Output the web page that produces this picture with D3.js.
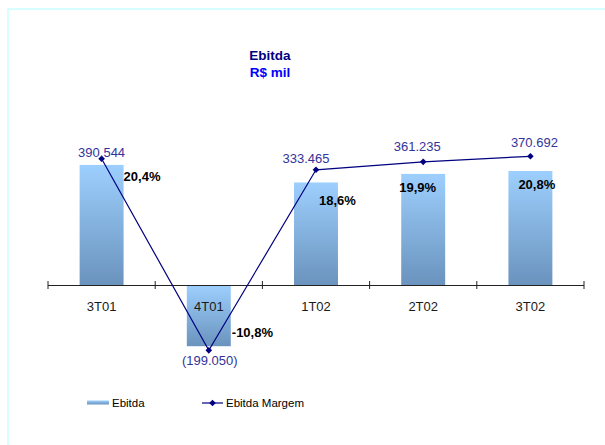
<!DOCTYPE html>
<html>
<head>
<meta charset="utf-8">
<script src="https://cdn.jsdelivr.net/npm/d3@7"></script>
<style>
  html, body { margin: 0; padding: 0; background: #ffffff; }
  svg { display: block; font-family: "Liberation Sans", Arial, sans-serif; }
</style>
</head>
<body>
<svg id="chart" width="605" height="445"></svg>
<script>
// ---- data ----
const categories = ["3T01", "4T01", "1T02", "2T02", "3T02"];
const ebitdaValues = [390544, -199050, 333465, 361235, 370692];   // R$ mil
const ebitdaMargin = [20.4, -10.8, 18.6, 19.9, 20.8];              // %
const titleLines = ["Ebitda", "R$ mil"];
const seriesNames = ["Ebitda", "Ebitda Margem"];

// ---- layout (label nudges, as placed in the original) ----
const valueLabelOffset = [[0, -2], [1, 15], [-10, -7], [-6, -11], [4, -9]];
const pctLabelOffset = [[22, 22], [23, -13], [3, 35], [-24, 30], [-12, 33]];

const svg = d3.select("#chart");
const loc = d3.formatLocale({ decimal: ",", thousands: ".", grouping: [3], currency: ["R$", ""], minus: "-" });
const fmtVal = v => v < 0 ? "(" + loc.format(",d")(-v) + ")" : loc.format(",d")(v);
const fmtPct = v => loc.format(".1f")(v) + "%";

// frame
svg.append("rect").attr("x", 8).attr("y", 9).attr("width", 640).attr("height", 480)
  .attr("fill", "#ffffff").attr("stroke", "#ccffff").attr("stroke-width", 1.5);

// gradient
const defs = svg.append("defs");
const grad = defs.append("linearGradient").attr("id", "barGrad")
  .attr("x1", 0).attr("y1", 0).attr("x2", 0).attr("y2", 1);
grad.append("stop").attr("offset", "0%").attr("stop-color", "#9dcffe");
grad.append("stop").attr("offset", "100%").attr("stop-color", "#6a93bd");

// scales
const x = d3.scaleBand().domain(categories).range([48, 584]).padding(0);
const yBar = d3.scaleLinear().domain([-300000, 500000]).range([377.25, 131.25]);
const yPct = d3.scaleLinear().domain([-15, 25]).range([376.1, 130.5]);
const barW = x.bandwidth() * 0.41;
const cx = c => x(c) + x.bandwidth() / 2;
const marker = d3.symbol(d3.symbolSquare, 22);

// title
svg.append("text").attr("x", 270).attr("y", 60).attr("text-anchor", "middle")
  .attr("font-size", 13.5).attr("font-weight", "bold").attr("fill", "#000080").text(titleLines[0]);
svg.append("text").attr("x", 270).attr("y", 77).attr("text-anchor", "middle")
  .attr("font-size", 13.5).attr("font-weight", "bold").attr("fill", "#0000ff").text(titleLines[1]);

// bars
svg.append("g").selectAll("rect").data(categories).join("rect")
  .attr("x", c => cx(c) - barW / 2)
  .attr("y", (c, i) => Math.min(yBar(ebitdaValues[i]), yBar(0)))
  .attr("width", barW)
  .attr("height", (c, i) => Math.abs(yBar(ebitdaValues[i]) - yBar(0)))
  .attr("fill", "url(#barGrad)");

// axis
const y0 = yBar(0);
const axis = svg.append("g").attr("transform", `translate(0,${y0})`)
  .call(d3.axisBottom(x).tickSize(0).tickPadding(17));
axis.select(".domain").attr("stroke", "#222").attr("stroke-width", 1).attr("d", `M48,0.5H584`);
axis.selectAll("text").attr("font-size", 13).attr("fill", "#1a1a1a")
  .attr("font-family", "'Liberation Sans', Arial, sans-serif");
const tickPos = categories.map(c => x(c)).concat([x.range()[1]]);
axis.selectAll("line.sep").data(tickPos).join("line").attr("class", "sep")
  .attr("x1", d => d).attr("x2", d => d).attr("y1", -4).attr("y2", 4)
  .attr("stroke", "#222").attr("stroke-width", 1);

// margin line
const line = d3.line().x((d, i) => cx(categories[i])).y(d => yPct(d));
svg.append("path").datum(ebitdaMargin).attr("d", line)
  .attr("fill", "none").attr("stroke", "#000080").attr("stroke-width", 1.2);
svg.append("g").selectAll("path").data(ebitdaMargin).join("path")
  .attr("transform", (d, i) => `translate(${cx(categories[i])},${yPct(d)}) rotate(45)`)
  .attr("d", marker)
  .attr("fill", "#000080");

// value labels
svg.append("g").selectAll("text").data(ebitdaValues).join("text")
  .attr("x", (d, i) => cx(categories[i]) + valueLabelOffset[i][0])
  .attr("y", (d, i) => yPct(ebitdaMargin[i]) + valueLabelOffset[i][1])
  .attr("text-anchor", "middle").attr("font-size", 13).attr("fill", "#333399")
  .text(d => fmtVal(d));

// percentage labels
svg.append("g").selectAll("text").data(ebitdaMargin).join("text")
  .attr("x", (d, i) => cx(categories[i]) + pctLabelOffset[i][0])
  .attr("y", (d, i) => yPct(d) + pctLabelOffset[i][1])
  .attr("font-size", 13).attr("font-weight", "bold").attr("fill", "#000000")
  .text(d => fmtPct(d));

// legend
const lg = svg.append("g");
lg.append("rect").attr("x", 87).attr("y", 400.5).attr("width", 22).attr("height", 4)
  .attr("fill", "url(#barGrad)");
lg.append("text").attr("x", 112).attr("y", 407).attr("font-size", 11.5).attr("fill", "#000").text(seriesNames[0]);
lg.append("line").attr("x1", 202).attr("x2", 223).attr("y1", 403).attr("y2", 403)
  .attr("stroke", "#000080").attr("stroke-width", 1.2);
lg.append("path").attr("transform", "translate(212.5,403) rotate(45)").attr("d", marker).attr("fill", "#000080");
lg.append("text").attr("x", 226).attr("y", 407).attr("font-size", 11.5).attr("fill", "#000").text(seriesNames[1]);
</script>
</body>
</html>
